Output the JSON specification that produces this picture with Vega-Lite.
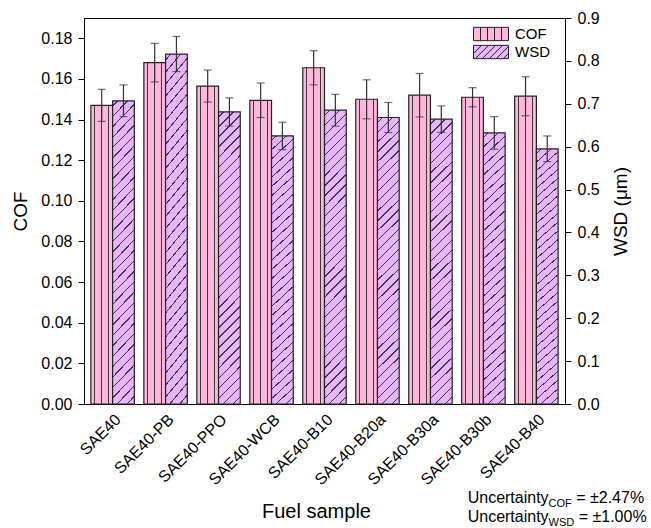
{
  "$schema": "https://vega.github.io/schema/vega-lite/v6.json",
  "width": 481,
  "height": 386,
  "autosize": {"type": "none"},
  "padding": {"left": 84, "top": 18, "right": 86, "bottom": 124},
  "background": "white",
  "datasets": {
    "fuel": [
      {"sample": "SAE40", "measure": "COF", "value": 0.147, "err": 0.0079},
      {"sample": "SAE40", "measure": "WSD", "value": 0.707, "err": 0.037},
      {"sample": "SAE40-PB", "measure": "COF", "value": 0.168, "err": 0.0095},
      {"sample": "SAE40-PB", "measure": "WSD", "value": 0.816, "err": 0.041},
      {"sample": "SAE40-PPO", "measure": "COF", "value": 0.1565, "err": 0.0079},
      {"sample": "SAE40-PPO", "measure": "WSD", "value": 0.681, "err": 0.033},
      {"sample": "SAE40-WCB", "measure": "COF", "value": 0.1495, "err": 0.0085},
      {"sample": "SAE40-WCB", "measure": "WSD", "value": 0.625, "err": 0.032},
      {"sample": "SAE40-B10", "measure": "COF", "value": 0.1655, "err": 0.0084},
      {"sample": "SAE40-B10", "measure": "WSD", "value": 0.685, "err": 0.037},
      {"sample": "SAE40-B20a", "measure": "COF", "value": 0.150, "err": 0.0096},
      {"sample": "SAE40-B20a", "measure": "WSD", "value": 0.668, "err": 0.035},
      {"sample": "SAE40-B30a", "measure": "COF", "value": 0.152, "err": 0.0107},
      {"sample": "SAE40-B30a", "measure": "WSD", "value": 0.664, "err": 0.031},
      {"sample": "SAE40-B30b", "measure": "COF", "value": 0.151, "err": 0.0047},
      {"sample": "SAE40-B30b", "measure": "WSD", "value": 0.632, "err": 0.038},
      {"sample": "SAE40-B40", "measure": "COF", "value": 0.1515, "err": 0.0096},
      {"sample": "SAE40-B40", "measure": "WSD", "value": 0.595, "err": 0.030}
    ]
  },
  "data": {"name": "fuel"},
  "layer": [
    {
      "layer": [
        {
          "transform": [{"filter": "datum.measure === 'COF'"}],
          "mark": {
            "type": "bar",
            "stroke": "#222222",
            "strokeWidth": 1.2,
            "fill": {
              "gradient": "linear", "x1": 0, "y1": 0, "x2": 1, "y2": 0,
              "stops": [
                {"offset": 0, "color": "#FFB6DB"},
                {"offset": 0.147, "color": "#FFB6DB"},
                {"offset": 0.147, "color": "#3a3a3a"},
                {"offset": 0.193, "color": "#3a3a3a"},
                {"offset": 0.193, "color": "#FFB6DB"},
                {"offset": 0.477, "color": "#FFB6DB"},
                {"offset": 0.477, "color": "#3a3a3a"},
                {"offset": 0.523, "color": "#3a3a3a"},
                {"offset": 0.523, "color": "#FFB6DB"},
                {"offset": 0.807, "color": "#FFB6DB"},
                {"offset": 0.807, "color": "#3a3a3a"},
                {"offset": 0.853, "color": "#3a3a3a"},
                {"offset": 0.853, "color": "#FFB6DB"},
                {"offset": 1, "color": "#FFB6DB"}
              ]
            }
          },
          "encoding": {
            "x": {"field": "sample", "type": "nominal", "sort": null, "title": "Fuel sample",
                  "scale": {"paddingInner": 0.18, "paddingOuter": 0.13},
                  "axis": {"labelAngle": -45, "ticks": false, "labelPadding": 7, "titlePadding": 14, "titleX": 232, "titleFontSize": 20}},
            "xOffset": {"field": "measure", "type": "nominal", "sort": ["COF", "WSD"],
                        "scale": {"domain": ["COF", "WSD"], "paddingInner": 0, "paddingOuter": 0}},
            "y": {"field": "value", "type": "quantitative", "title": "COF",
                  "scale": {"domain": [0, 0.19], "nice": false, "zero": true},
                  "axis": {"orient": "left", "values": [0, 0.02, 0.04, 0.06, 0.08, 0.1, 0.12, 0.14, 0.16, 0.18],
                           "format": ".2f", "titlePadding": 10}}
          }
        },
        {
          "transform": [{"filter": "datum.measure === 'COF'"}],
          "mark": {"type": "errorbar", "color": "#333333",
                   "ticks": {"size": 8, "thickness": 1.2, "color": "#333333"},
                   "rule": {"strokeWidth": 1.2, "color": "#333333"}},
          "encoding": {
            "x": {"field": "sample", "type": "nominal", "sort": null, "title": "Fuel sample"},
            "xOffset": {"field": "measure", "type": "nominal", "sort": ["COF", "WSD"]},
            "y": {"field": "value", "type": "quantitative", "title": "COF"},
            "yError": {"field": "err"}
          }
        },
        {
          "mark": {"type": "point", "filled": true, "opacity": 0},
          "encoding": {
            "fill": {"field": "measure", "type": "nominal",
                     "scale": {"domain": ["COF", "WSD"], "range": ["#FFB6DB", "#E9B4FF"]},
                     "legend": {"title": null, "orient": "none", "legendX": 399, "legendY": 8,
                                "symbolSize": 225, "symbolStrokeWidth": 1,
                                "symbolOpacity": 1, "labelFontSize": 15, "labelOffset": 16, "rowPadding": 0, "labelColor": "#000"}},
            "stroke": {"field": "measure", "type": "nominal",
                       "scale": {"domain": ["COF", "WSD"], "range": ["#222222", "#222222"]},
                       "legend": {"title": null, "orient": "none", "legendX": 399, "legendY": 8,
                                  "symbolSize": 225, "symbolStrokeWidth": 1,
                                  "symbolOpacity": 1, "labelFontSize": 15, "labelOffset": 16, "rowPadding": 0, "labelColor": "#000"}},
            "shape": {"field": "measure", "type": "nominal",
                      "scale": {"domain": ["COF", "WSD"],
                                "range": ["M-2.333,-0.887H2.333V0.887H-2.333Z M-1.4,-0.887V0.887 M-0.467,-0.887V0.887 M0.467,-0.887V0.887 M1.4,-0.887V0.887",
                                          "M-2.333,-0.887H2.333V0.887H-2.333Z M-2.333,0.187L-1.26,-0.887 M-2.1,0.887L-0.327,-0.887 M-1.167,0.887L0.607,-0.887 M-0.233,0.887L1.54,-0.887 M0.7,0.887L2.333,-0.747 M1.633,0.887L2.333,0.187"]},
                      "legend": {"title": null, "orient": "none", "legendX": 399, "legendY": 8,
                                 "symbolSize": 225, "symbolStrokeWidth": 1,
                                 "symbolOpacity": 1, "labelFontSize": 15, "labelOffset": 16, "rowPadding": 0, "labelColor": "#000"}}
          }
        },
        {
          "data": {"values": [{"label": "Uncertainty"}]},
          "mark": {"type": "text", "align": "left", "baseline": "alphabetic", "fontSize": 16, "dx": -68.7, "color": "#000"},
          "encoding": {"x": {"datum": "SAE40-B40", "type": "nominal"}, "y": {"datum": -0.0486, "type": "quantitative", "title": "COF"}, "text": {"field": "label"}}
        },
        {
          "data": {"values": [{"label": "COF"}]},
          "mark": {"type": "text", "align": "left", "baseline": "alphabetic", "fontSize": 11, "dx": 12.2, "dy": 4, "color": "#000"},
          "encoding": {"x": {"datum": "SAE40-B40", "type": "nominal"}, "y": {"datum": -0.0486, "type": "quantitative", "title": "COF"}, "text": {"field": "label"}}
        },
        {
          "data": {"values": [{"label": "= ±2.47%"}]},
          "mark": {"type": "text", "align": "left", "baseline": "alphabetic", "fontSize": 16, "dx": 39.8, "color": "#000"},
          "encoding": {"x": {"datum": "SAE40-B40", "type": "nominal"}, "y": {"datum": -0.0486, "type": "quantitative", "title": "COF"}, "text": {"field": "label"}}
        },
        {
          "data": {"values": [{"label": "Uncertainty"}]},
          "mark": {"type": "text", "align": "left", "baseline": "alphabetic", "fontSize": 16, "dx": -68.7, "color": "#000"},
          "encoding": {"x": {"datum": "SAE40-B40", "type": "nominal"}, "y": {"datum": -0.0579, "type": "quantitative", "title": "COF"}, "text": {"field": "label"}}
        },
        {
          "data": {"values": [{"label": "WSD"}]},
          "mark": {"type": "text", "align": "left", "baseline": "alphabetic", "fontSize": 11, "dx": 12.2, "dy": 4, "color": "#000"},
          "encoding": {"x": {"datum": "SAE40-B40", "type": "nominal"}, "y": {"datum": -0.0579, "type": "quantitative", "title": "COF"}, "text": {"field": "label"}}
        },
        {
          "data": {"values": [{"label": "= ±1.00%"}]},
          "mark": {"type": "text", "align": "left", "baseline": "alphabetic", "fontSize": 16, "dx": 42.3, "color": "#000"},
          "encoding": {"x": {"datum": "SAE40-B40", "type": "nominal"}, "y": {"datum": -0.0579, "type": "quantitative", "title": "COF"}, "text": {"field": "label"}}
        }
      ]
    },
    {
      "layer": [
        {
          "transform": [{"filter": "datum.measure === 'WSD'"}],
          "mark": {
            "type": "bar",
            "stroke": "#222222",
            "strokeWidth": 1.2,
            "fill": {
              "gradient": "linear", "x1": 0, "y1": 0, "x2": 0.08, "y2": 1.069,
              "stops": [
                {"offset": 0, "color": "#E9B4FF"},
                {"offset": 0.0139, "color": "#E9B4FF"}, {"offset": 0.0139, "color": "#3a3a3a"}, {"offset": 0.0181, "color": "#3a3a3a"}, {"offset": 0.0181, "color": "#E9B4FF"},
                {"offset": 0.0459, "color": "#E9B4FF"}, {"offset": 0.0459, "color": "#3a3a3a"}, {"offset": 0.0501, "color": "#3a3a3a"}, {"offset": 0.0501, "color": "#E9B4FF"},
                {"offset": 0.0779, "color": "#E9B4FF"}, {"offset": 0.0779, "color": "#3a3a3a"}, {"offset": 0.0821, "color": "#3a3a3a"}, {"offset": 0.0821, "color": "#E9B4FF"},
                {"offset": 0.1099, "color": "#E9B4FF"}, {"offset": 0.1099, "color": "#3a3a3a"}, {"offset": 0.1141, "color": "#3a3a3a"}, {"offset": 0.1141, "color": "#E9B4FF"},
                {"offset": 0.1419, "color": "#E9B4FF"}, {"offset": 0.1419, "color": "#3a3a3a"}, {"offset": 0.1461, "color": "#3a3a3a"}, {"offset": 0.1461, "color": "#E9B4FF"},
                {"offset": 0.1739, "color": "#E9B4FF"}, {"offset": 0.1739, "color": "#3a3a3a"}, {"offset": 0.1781, "color": "#3a3a3a"}, {"offset": 0.1781, "color": "#E9B4FF"},
                {"offset": 0.2059, "color": "#E9B4FF"}, {"offset": 0.2059, "color": "#3a3a3a"}, {"offset": 0.2101, "color": "#3a3a3a"}, {"offset": 0.2101, "color": "#E9B4FF"},
                {"offset": 0.2379, "color": "#E9B4FF"}, {"offset": 0.2379, "color": "#3a3a3a"}, {"offset": 0.2421, "color": "#3a3a3a"}, {"offset": 0.2421, "color": "#E9B4FF"},
                {"offset": 0.2699, "color": "#E9B4FF"}, {"offset": 0.2699, "color": "#3a3a3a"}, {"offset": 0.2741, "color": "#3a3a3a"}, {"offset": 0.2741, "color": "#E9B4FF"},
                {"offset": 0.3019, "color": "#E9B4FF"}, {"offset": 0.3019, "color": "#3a3a3a"}, {"offset": 0.3061, "color": "#3a3a3a"}, {"offset": 0.3061, "color": "#E9B4FF"},
                {"offset": 0.3339, "color": "#E9B4FF"}, {"offset": 0.3339, "color": "#3a3a3a"}, {"offset": 0.3381, "color": "#3a3a3a"}, {"offset": 0.3381, "color": "#E9B4FF"},
                {"offset": 0.3659, "color": "#E9B4FF"}, {"offset": 0.3659, "color": "#3a3a3a"}, {"offset": 0.3701, "color": "#3a3a3a"}, {"offset": 0.3701, "color": "#E9B4FF"},
                {"offset": 0.3979, "color": "#E9B4FF"}, {"offset": 0.3979, "color": "#3a3a3a"}, {"offset": 0.4021, "color": "#3a3a3a"}, {"offset": 0.4021, "color": "#E9B4FF"},
                {"offset": 0.4299, "color": "#E9B4FF"}, {"offset": 0.4299, "color": "#3a3a3a"}, {"offset": 0.4341, "color": "#3a3a3a"}, {"offset": 0.4341, "color": "#E9B4FF"},
                {"offset": 0.4619, "color": "#E9B4FF"}, {"offset": 0.4619, "color": "#3a3a3a"}, {"offset": 0.4661, "color": "#3a3a3a"}, {"offset": 0.4661, "color": "#E9B4FF"},
                {"offset": 0.4939, "color": "#E9B4FF"}, {"offset": 0.4939, "color": "#3a3a3a"}, {"offset": 0.4981, "color": "#3a3a3a"}, {"offset": 0.4981, "color": "#E9B4FF"},
                {"offset": 0.5259, "color": "#E9B4FF"}, {"offset": 0.5259, "color": "#3a3a3a"}, {"offset": 0.5301, "color": "#3a3a3a"}, {"offset": 0.5301, "color": "#E9B4FF"},
                {"offset": 0.5579, "color": "#E9B4FF"}, {"offset": 0.5579, "color": "#3a3a3a"}, {"offset": 0.5621, "color": "#3a3a3a"}, {"offset": 0.5621, "color": "#E9B4FF"},
                {"offset": 0.5899, "color": "#E9B4FF"}, {"offset": 0.5899, "color": "#3a3a3a"}, {"offset": 0.5941, "color": "#3a3a3a"}, {"offset": 0.5941, "color": "#E9B4FF"},
                {"offset": 0.6219, "color": "#E9B4FF"}, {"offset": 0.6219, "color": "#3a3a3a"}, {"offset": 0.6261, "color": "#3a3a3a"}, {"offset": 0.6261, "color": "#E9B4FF"},
                {"offset": 0.6539, "color": "#E9B4FF"}, {"offset": 0.6539, "color": "#3a3a3a"}, {"offset": 0.6581, "color": "#3a3a3a"}, {"offset": 0.6581, "color": "#E9B4FF"},
                {"offset": 0.6859, "color": "#E9B4FF"}, {"offset": 0.6859, "color": "#3a3a3a"}, {"offset": 0.6901, "color": "#3a3a3a"}, {"offset": 0.6901, "color": "#E9B4FF"},
                {"offset": 0.7179, "color": "#E9B4FF"}, {"offset": 0.7179, "color": "#3a3a3a"}, {"offset": 0.7221, "color": "#3a3a3a"}, {"offset": 0.7221, "color": "#E9B4FF"},
                {"offset": 0.7499, "color": "#E9B4FF"}, {"offset": 0.7499, "color": "#3a3a3a"}, {"offset": 0.7541, "color": "#3a3a3a"}, {"offset": 0.7541, "color": "#E9B4FF"},
                {"offset": 0.7819, "color": "#E9B4FF"}, {"offset": 0.7819, "color": "#3a3a3a"}, {"offset": 0.7861, "color": "#3a3a3a"}, {"offset": 0.7861, "color": "#E9B4FF"},
                {"offset": 0.8139, "color": "#E9B4FF"}, {"offset": 0.8139, "color": "#3a3a3a"}, {"offset": 0.8181, "color": "#3a3a3a"}, {"offset": 0.8181, "color": "#E9B4FF"},
                {"offset": 0.8459, "color": "#E9B4FF"}, {"offset": 0.8459, "color": "#3a3a3a"}, {"offset": 0.8501, "color": "#3a3a3a"}, {"offset": 0.8501, "color": "#E9B4FF"},
                {"offset": 0.8779, "color": "#E9B4FF"}, {"offset": 0.8779, "color": "#3a3a3a"}, {"offset": 0.8821, "color": "#3a3a3a"}, {"offset": 0.8821, "color": "#E9B4FF"},
                {"offset": 0.9099, "color": "#E9B4FF"}, {"offset": 0.9099, "color": "#3a3a3a"}, {"offset": 0.9141, "color": "#3a3a3a"}, {"offset": 0.9141, "color": "#E9B4FF"},
                {"offset": 0.9419, "color": "#E9B4FF"}, {"offset": 0.9419, "color": "#3a3a3a"}, {"offset": 0.9461, "color": "#3a3a3a"}, {"offset": 0.9461, "color": "#E9B4FF"},
                {"offset": 0.9739, "color": "#E9B4FF"}, {"offset": 0.9739, "color": "#3a3a3a"}, {"offset": 0.9781, "color": "#3a3a3a"}, {"offset": 0.9781, "color": "#E9B4FF"},
                {"offset": 1, "color": "#E9B4FF"}
              ]
            }
          },
          "encoding": {
            "x": {"field": "sample", "type": "nominal", "sort": null, "title": "Fuel sample"},
            "xOffset": {"field": "measure", "type": "nominal", "sort": ["COF", "WSD"]},
            "y": {"field": "value", "type": "quantitative", "title": "WSD (μm)",
                  "scale": {"domain": [0, 0.9], "nice": false, "zero": true},
                  "axis": {"orient": "right", "values": [0, 0.1, 0.2, 0.3, 0.4, 0.5, 0.6, 0.7, 0.8, 0.9],
                           "format": ".1f", "titlePadding": 12, "titleAngle": 270, "titleBaseline": "top"}}
          }
        },
        {
          "transform": [{"filter": "datum.measure === 'WSD'"}],
          "mark": {"type": "errorbar", "color": "#333333",
                   "ticks": {"size": 8, "thickness": 1.2, "color": "#333333"},
                   "rule": {"strokeWidth": 1.2, "color": "#333333"}},
          "encoding": {
            "x": {"field": "sample", "type": "nominal", "sort": null, "title": "Fuel sample"},
            "xOffset": {"field": "measure", "type": "nominal", "sort": ["COF", "WSD"]},
            "y": {"field": "value", "type": "quantitative", "title": "WSD (μm)"},
            "yError": {"field": "err"}
          }
        }
      ]
    }
  ],
  "resolve": {"scale": {"y": "independent"}},
  "config": {
    "font": "Liberation Sans",
    "view": {"stroke": "#000000", "strokeWidth": 1},
    "axis": {
      "grid": false, "domainColor": "#000000", "domainWidth": 1, "tickColor": "#000000", "tickWidth": 1, "tickSize": 6,
      "labelColor": "#000000", "labelFontSize": 16, "labelPadding": 6,
      "titleColor": "#000000", "titleFontSize": 19, "titleFontWeight": "normal"
    },
    "legend": {"labelFont": "Liberation Sans"}
  }
}
